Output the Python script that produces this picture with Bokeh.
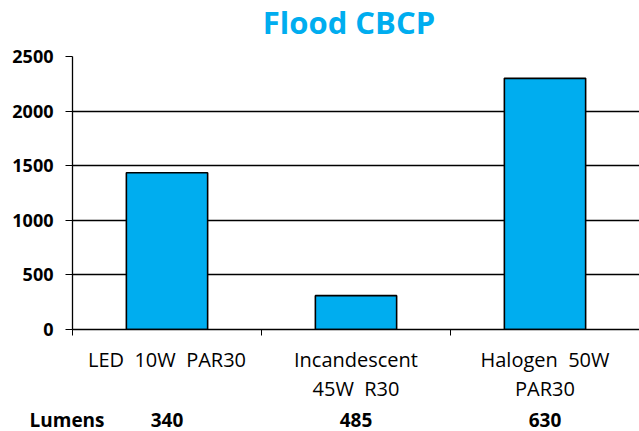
from bokeh.plotting import figure
from bokeh.layouts import column
from bokeh.models import Range1d, FixedTicker, ColumnDataSource
from bokeh.embed import file_html
from bokeh.resources import INLINE
from bokeh.core.properties import value

title_text = "Flood CBCP"
categories = ["LED\u00a0 10W\u00a0 PAR30", "Incandescent\n45W\u00a0 R30", "Halogen\u00a0 50W\nPAR30"]
cbcp = [1435, 310, 2300]
lumens = [340, 485, 630]
lumens_label = "Lumens"
y_ticks = [0, 500, 1000, 1500, 2000, 2500]

FONT = "Open Sans"
BLUE = "#00ADEF"

W = 639
H = 431
H0 = 43          # title strip
H2 = 26          # lumens strip
H1 = H - H0 - H2 # main chart
LEFT = 72
FRAME_TOP = 56
FRAME_BOTTOM = 329
n = len(categories)
xs = [i + 0.5 for i in range(n)]
bounds = [float(i) for i in range(n + 1)]
start = -n * LEFT / (W - LEFT)


def strip(height):
    s = figure(width=W, height=height, output_backend="svg", toolbar_location=None,
               x_range=Range1d(start, n), y_range=Range1d(0, 1),
               min_border_left=0, min_border_right=0, min_border_top=0,
               min_border_bottom=0, x_axis_location=None, y_axis_location=None)
    s.frame_align = False
    s.outline_line_color = None
    s.grid.visible = False
    return s


# title strip
p0 = strip(H0)
p0.text(x=[n / 2], y=[0.5], text=[title_text], x_offset=-7,
        text_align="center", text_baseline="middle",
        text_font=value(FONT), text_font_size="31px",
        text_font_style="bold", text_color=BLUE)

# main chart
p = figure(width=W, height=H1, output_backend="svg", toolbar_location=None,
           x_range=Range1d(0, n), y_range=Range1d(0, y_ticks[-1]),
           min_border_left=LEFT, min_border_right=0, min_border_top=FRAME_TOP - H0,
           min_border_bottom=H0 + H1 - FRAME_BOTTOM)
p.frame_align = False
p.outline_line_color = None
p.background_fill_color = "white"
p.border_fill_color = "white"

src = ColumnDataSource(dict(x=xs, top=cbcp))
p.vbar(x="x", top="top", width=0.43, bottom=0, source=src,
       fill_color=BLUE, line_color="black", line_width=1.6)

# grid
p.xgrid.visible = False
p.ygrid.ticker = FixedTicker(ticks=y_ticks)
p.ygrid.grid_line_color = "black"
p.ygrid.grid_line_width = 1.3

# y axis
p.yaxis.ticker = FixedTicker(ticks=y_ticks)
p.yaxis.axis_line_color = "black"
p.yaxis.axis_line_width = 1.3
p.yaxis.major_tick_out = 7
p.yaxis.major_tick_in = 0
p.yaxis.major_tick_line_color = "black"
p.yaxis.minor_tick_line_color = None
p.yaxis.major_label_text_font = FONT
p.yaxis.major_label_text_font_size = "18px"
p.yaxis.major_label_text_font_style = "bold"
p.yaxis.major_label_text_color = "black"
p.yaxis.major_label_standoff = 12

# x axis: labels at category centres, ticks at category boundaries
p.xaxis.ticker = FixedTicker(ticks=xs, minor_ticks=bounds)
p.xaxis.major_label_overrides = {x: c for x, c in zip(xs, categories)}
p.xaxis.major_tick_line_color = None
p.xaxis.major_tick_out = 6
p.xaxis.major_tick_in = 0
p.xaxis.minor_tick_line_color = "black"
p.xaxis.minor_tick_out = 6
p.xaxis.minor_tick_in = 0
p.xaxis.axis_line_color = "black"
p.xaxis.axis_line_width = 1.5
p.xaxis.major_label_text_font = FONT
p.xaxis.major_label_text_font_size = "20px"
p.xaxis.major_label_text_color = "black"
p.xaxis.major_label_text_line_height = 1.1
p.xaxis.major_label_standoff = 10

# lumens strip
p2 = strip(H2)
lsrc = ColumnDataSource(dict(x=xs, text=[str(v) for v in lumens]))
p2.text(x="x", y=0.5, text="text", source=lsrc, y_offset=1,
        text_align="center", text_baseline="middle",
        text_font=value(FONT), text_font_size="19px",
        text_font_style="bold", text_color="black")
p2.text(x=[start], y=[0.5], text=[lumens_label], x_offset=29, y_offset=1,
        text_align="left", text_baseline="middle",
        text_font=value(FONT), text_font_size="19px",
        text_font_style="bold", text_color="black")

layout = column(p0, p, p2, spacing=0)
open("out.html", "w").write(file_html(layout, INLINE))
